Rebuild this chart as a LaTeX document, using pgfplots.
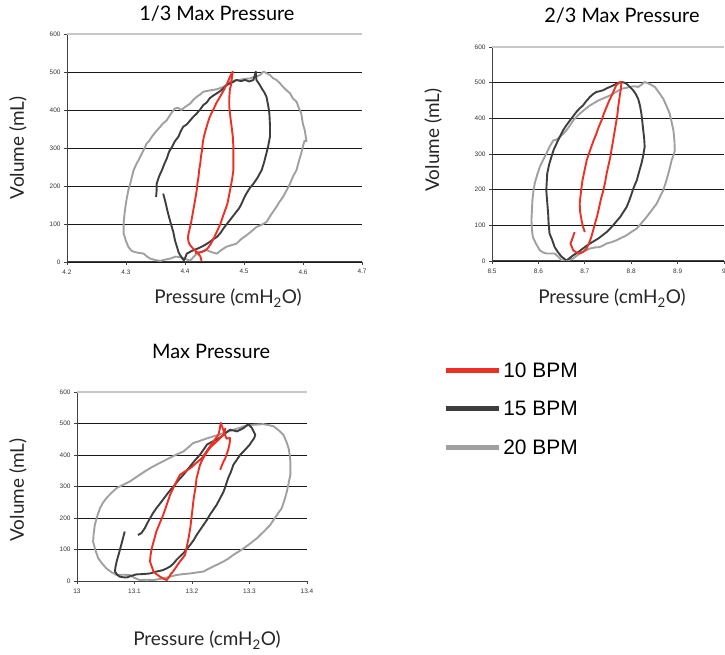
\documentclass[border=0pt]{standalone}
\usepackage{pgfplots}
\pgfplotsset{compat=1.18}
\usepackage{fontspec}
\setmainfont{Lato}
\newfontfamily\arialf{Liberation Sans}
\definecolor{cRed}{RGB}{238,48,36}
\definecolor{cDark}{RGB}{62,62,62}
\definecolor{cGray}{RGB}{160,160,160}
\definecolor{cTop}{RGB}{200,200,200}
\pgfplotsset{
  pv/.style={
    scale only axis, anchor=south west,
    ymin=0, ymax=600, ytick={0,100,...,600},
    axis x line*=bottom, axis y line*=left,
    axis line style={-, line width=1bp, black!75},
    ymajorgrids, grid style={line width=0.9bp, black!90},
    tick style={black!75, line width=0.8bp},
    tick align=outside, major tick length=3bp,
    tick label style={font=\arialf\fontsize{6.5}{7}\selectfont, text=black!80},
    /pgf/number format/assume math mode=true,
    xticklabel style={yshift=-1bp},
    label style={font=\fontsize{19}{22}\selectfont, text=black!85},
    title style={font=\fontsize{20}{23}\selectfont, anchor=center},
    every axis plot/.append style={line width=1.9bp, line join=round},
    clip=false,
  }
}
\begin{document}
\begin{tikzpicture}
\path[use as bounding box] (0,0) rectangle (725bp,655bp);
% ---------------- 1/3 Max Pressure
\begin{axis}[pv, at={(67bp,393bp)}, width=295bp, height=228bp,
  xmin=4.2, xmax=4.7, xtick={4.2,4.3,4.4,4.5,4.6,4.7},
  title={1/3 Max Pressure}, title style={at={(axis description cs:0.508,1.061)}},
  xlabel={Pressure (cmH\textsubscript{2}O)}, ylabel={Volume (mL)},
  xlabel style={at={(axis description cs:0.546,-0.158)}, anchor=center},
  ylabel style={at={(axis description cs:-0.166,0.5)}, anchor=center, rotate=0},
]
\draw[cTop, line width=1.5bp] (rel axis cs:0,1) -- (rel axis cs:1,1);
\addplot[cGray] coordinates {
(4.606,316)(4.603,347)(4.600,362)(4.597,391)(4.593,405)(4.589,422)(4.583,430)(4.578,444)(4.572,452)(4.566,461)(4.560,472)(4.555,479)(4.549,484)(4.544,492)(4.538,497)(4.533,501)(4.527,492)(4.521,488)(4.515,486)(4.510,483)(4.500,482)(4.493,479)(4.485,478)(4.476,475)(4.470,466)(4.465,461)(4.455,455)(4.448,453)(4.440,451)(4.431,448)(4.425,440)(4.420,435)(4.413,425)(4.409,417)(4.400,408)(4.394,400)(4.388,406)(4.383,404)(4.376,390)(4.369,373)(4.363,365)(4.358,356)(4.350,342)(4.344,330)(4.339,318)(4.335,312)(4.331,298)(4.327,286)(4.322,270)(4.318,259)(4.313,242)(4.310,224)(4.307,205)(4.304,189)(4.301,165)(4.299,145)(4.297,120)(4.296,101)(4.296,88)(4.296,75)(4.300,55)(4.304,40)(4.309,30)(4.315,26)(4.322,24)(4.330,22)(4.336,14)(4.341,9)(4.350,5)(4.358,3)(4.366,6)(4.375,9)(4.384,14)(4.392,13)(4.400,8)(4.409,4)(4.415,14)(4.420,22)(4.428,27)(4.437,31)(4.445,26)(4.454,22)(4.462,32)(4.470,40)(4.478,44)(4.487,48)(4.495,60)(4.504,70)(4.512,80)(4.521,92)(4.530,98)(4.538,105)(4.546,125)(4.555,145)(4.560,158)(4.566,171)(4.572,188)(4.578,206)(4.583,225)(4.589,242)(4.593,265)(4.597,286)(4.600,305)(4.603,321)};
\addplot[cDark] coordinates {
(4.351,171)(4.352,190)(4.352,206)(4.356,225)(4.361,242)(4.365,258)(4.369,272)(4.373,290)(4.378,303)(4.383,318)(4.389,330)(4.393,345)(4.397,356)(4.403,362)(4.409,373)(4.414,382)(4.420,391)(4.426,402)(4.431,413)(4.437,420)(4.442,431)(4.448,438)(4.454,444)(4.460,450)(4.465,457)(4.470,465)(4.476,470)(4.481,473)(4.487,479)(4.495,476)(4.502,479)(4.509,475)(4.516,479)(4.520,501)(4.521,479)(4.526,468)(4.530,457)(4.535,445)(4.538,435)(4.541,412)(4.543,391)(4.544,360)(4.544,330)(4.541,305)(4.538,286)(4.534,262)(4.530,242)(4.523,222)(4.516,206)(4.510,195)(4.504,180)(4.500,168)(4.496,154)(4.492,142)(4.487,132)(4.481,120)(4.476,110)(4.470,98)(4.465,88)(4.460,76)(4.454,66)(4.448,60)(4.442,53)(4.435,46)(4.428,40)(4.421,35)(4.414,31)(4.409,27)(4.403,22)(4.400,10)(4.398,4)(4.394,13)(4.391,20)(4.389,26)(4.386,42)(4.383,57)(4.380,80)(4.376,101)(4.373,118)(4.370,136)(4.368,150)(4.366,163)(4.363,180)};
\addplot[cRed] coordinates {
(4.428,3)(4.426,15)(4.420,26)(4.415,33)(4.411,40)(4.408,46)(4.406,53)(4.405,65)(4.406,75)(4.408,88)(4.410,101)(4.412,118)(4.414,136)(4.416,153)(4.418,171)(4.420,190)(4.421,206)(4.423,225)(4.424,242)(4.426,260)(4.427,277)(4.429,295)(4.430,312)(4.432,330)(4.435,347)(4.438,363)(4.441,378)(4.445,392)(4.449,404)(4.453,418)(4.458,431)(4.462,442)(4.466,453)(4.470,465)(4.473,475)(4.476,487)(4.479,496)(4.481,501)(4.479,479)(4.478,466)(4.476,453)(4.475,430)(4.475,409)(4.477,380)(4.479,356)(4.481,330)(4.482,303)(4.482,270)(4.482,242)(4.480,220)(4.478,202)(4.475,178)(4.472,154)(4.468,136)(4.464,119)(4.460,100)(4.455,83)(4.451,70)(4.447,57)(4.443,46)(4.438,35)(4.433,30)(4.428,26)(4.422,25)(4.417,24)};
\end{axis}
% ---------------- 2/3 Max Pressure
\begin{axis}[pv, at={(492bp,394bp)}, width=232bp, height=214bp,
  xmin=8.5, xmax=9, xtick={8.5,8.6,8.7,8.8,8.9,9},
  title={2/3 Max Pressure}, title style={at={(axis description cs:0.560,1.121)}},
  xlabel={Pressure (cmH\textsubscript{2}O)}, ylabel={Volume (mL)},
  xlabel style={at={(axis description cs:0.517,-0.173)}, anchor=center},
  ylabel style={at={(axis description cs:-0.254,0.565)}, anchor=center, rotate=0},
]
\draw[cTop, line width=1.5bp] (rel axis cs:0,1) -- (rel axis cs:1,1);
\addplot[cGray] coordinates {
(8.894,310)(8.893,340)(8.891,366)(8.887,390)(8.883,413)(8.876,435)(8.869,455)(8.860,472)(8.851,488)(8.840,496)(8.829,502)(8.822,494)(8.815,488)(8.806,490)(8.797,488)(8.788,485)(8.779,483)(8.770,476)(8.761,469)(8.754,464)(8.747,460)(8.738,455)(8.729,450)(8.720,443)(8.711,436)(8.700,425)(8.689,413)(8.682,404)(8.675,394)(8.668,380)(8.660,366)(8.653,356)(8.646,348)(8.639,340)(8.632,338)(8.624,320)(8.617,301)(8.610,283)(8.603,264)(8.597,240)(8.592,217)(8.589,193)(8.587,170)(8.586,140)(8.585,114)(8.586,90)(8.588,67)(8.595,48)(8.603,30)(8.610,24)(8.617,21)(8.626,21)(8.635,21)(8.643,12)(8.650,2)(8.657,2)(8.664,2)(8.670,5)(8.675,7)(8.682,14)(8.689,21)(8.700,28)(8.711,35)(8.722,38)(8.732,39)(8.740,44)(8.747,49)(8.758,53)(8.768,58)(8.779,65)(8.790,72)(8.801,82)(8.812,91)(8.822,106)(8.833,123)(8.844,142)(8.855,161)(8.862,180)(8.869,198)(8.875,222)(8.880,245)(8.884,265)(8.887,282)(8.891,296)(8.894,310)};
\addplot[cDark] coordinates {
(8.660,2)(8.650,12)(8.642,25)(8.635,39)(8.630,58)(8.624,77)(8.622,105)(8.621,133)(8.619,165)(8.617,198)(8.618,222)(8.619,245)(8.623,270)(8.628,292)(8.633,312)(8.639,329)(8.646,348)(8.653,366)(8.660,380)(8.668,394)(8.675,406)(8.682,418)(8.689,428)(8.696,436)(8.703,448)(8.711,460)(8.718,468)(8.725,474)(8.732,476)(8.740,479)(8.747,484)(8.754,488)(8.761,492)(8.768,497)(8.774,500)(8.779,502)(8.785,500)(8.790,497)(8.797,488)(8.804,479)(8.810,468)(8.815,455)(8.819,435)(8.822,413)(8.824,390)(8.826,366)(8.828,343)(8.829,320)(8.826,296)(8.822,273)(8.817,250)(8.812,226)(8.806,208)(8.801,189)(8.796,170)(8.790,151)(8.783,137)(8.776,123)(8.768,111)(8.761,100)(8.754,90)(8.747,81)(8.738,72)(8.729,63)(8.720,56)(8.711,49)(8.703,42)(8.696,35)(8.691,30)(8.686,25)(8.680,20)(8.675,16)(8.668,9)(8.662,3)};
\addplot[cRed] coordinates {
(8.700,81)(8.696,97)(8.693,114)(8.690,138)(8.689,161)(8.691,185)(8.693,207)(8.695,226)(8.698,245)(8.701,263)(8.704,282)(8.709,301)(8.714,320)(8.719,338)(8.725,357)(8.730,376)(8.736,394)(8.741,413)(8.747,432)(8.752,448)(8.758,464)(8.763,479)(8.768,493)(8.774,500)(8.779,502)(8.778,485)(8.776,469)(8.774,450)(8.772,432)(8.770,408)(8.767,385)(8.764,361)(8.761,338)(8.758,315)(8.755,292)(8.751,268)(8.747,245)(8.744,222)(8.740,198)(8.735,175)(8.731,151)(8.727,128)(8.722,105)(8.718,86)(8.714,67)(8.709,50)(8.704,35)(8.697,26)(8.689,21)(8.682,24)(8.675,30)(8.672,40)(8.669,49)(8.673,62)(8.678,81)};
\end{axis}
% ---------------- Max Pressure
\begin{axis}[pv, at={(77bp,74bp)}, width=230bp, height=189bp,
  xmin=13, xmax=13.4, xtick={13,13.1,13.2,13.3,13.4},
  title={Max Pressure}, title style={at={(axis description cs:0.583,1.185)}},
  xlabel={Pressure (cmH\textsubscript{2}O)}, ylabel={Volume (mL)},
  xlabel style={at={(axis description cs:0.565,-0.312)}, anchor=center},
  ylabel style={at={(axis description cs:-0.257,0.481)}, anchor=center, rotate=0},
  legend cell align=left,
  legend style={at={(axis description cs:1.592,1.168)}, anchor=north west,
    draw=none, fill=none, font=\arialf\fontsize{21}{23}\selectfont,
    row sep=18.5bp, inner sep=0pt,
    /tikz/every even column/.append style={column sep=2bp}},
  legend image code/.code={\draw[#1, line width=5bp] (0bp,0bp) -- (53bp,0bp);},
]
\draw[cTop, line width=1.5bp] (rel axis cs:0,1) -- (rel axis cs:1,1);
\addlegendimage{cRed}
\addlegendentry{10 BPM}
\addlegendimage{cDark}
\addlegendentry{15 BPM}
\addlegendimage{cGray}
\addlegendentry{20 BPM}
\addplot[cGray, forget plot] coordinates {
(13.371,380)(13.370,400)(13.368,422)(13.364,443)(13.359,464)(13.351,478)(13.342,491)(13.333,495)(13.324,498)(13.316,497)(13.307,496)(13.298,494)(13.290,491)(13.281,485)(13.272,480)(13.264,475)(13.255,470)(13.246,464)(13.237,459)(13.228,454)(13.220,449)(13.211,443)(13.202,438)(13.194,425)(13.185,411)(13.176,404)(13.167,396)(13.158,388)(13.150,380)(13.138,369)(13.127,358)(13.118,348)(13.109,337)(13.100,326)(13.092,316)(13.080,305)(13.069,295)(13.060,280)(13.051,263)(13.045,248)(13.040,231)(13.035,205)(13.031,178)(13.029,150)(13.028,125)(13.032,98)(13.037,72)(13.044,55)(13.051,40)(13.060,28)(13.069,19)(13.080,20)(13.092,19)(13.100,10)(13.109,3)(13.121,4)(13.133,3)(13.142,6)(13.150,8)(13.162,14)(13.173,19)(13.185,22)(13.197,24)(13.208,27)(13.220,30)(13.228,38)(13.237,46)(13.246,54)(13.255,62)(13.264,72)(13.272,83)(13.281,93)(13.290,104)(13.302,120)(13.313,136)(13.325,157)(13.336,178)(13.346,205)(13.356,231)(13.361,258)(13.365,284)(13.368,310)(13.371,337)(13.371,358)(13.371,380)};
\addplot[cDark, forget plot] coordinates {
(13.083,157)(13.080,136)(13.077,115)(13.073,88)(13.069,62)(13.067,45)(13.066,30)(13.070,20)(13.074,14)(13.080,12)(13.086,11)(13.094,16)(13.103,21)(13.115,22)(13.127,24)(13.133,27)(13.138,30)(13.144,32)(13.150,35)(13.156,40)(13.162,46)(13.168,56)(13.173,67)(13.179,78)(13.185,88)(13.191,102)(13.197,115)(13.203,130)(13.208,146)(13.214,162)(13.220,178)(13.226,194)(13.231,210)(13.237,226)(13.243,242)(13.249,263)(13.255,284)(13.259,305)(13.263,327)(13.268,348)(13.272,369)(13.278,385)(13.284,401)(13.290,412)(13.295,422)(13.300,432)(13.304,443)(13.308,453)(13.310,464)(13.307,475)(13.304,486)(13.301,492)(13.298,498)(13.294,492)(13.290,486)(13.284,480)(13.278,475)(13.272,478)(13.266,480)(13.260,472)(13.255,464)(13.249,456)(13.243,449)(13.234,441)(13.226,433)(13.220,417)(13.214,401)(13.206,385)(13.199,369)(13.192,353)(13.185,337)(13.177,321)(13.170,305)(13.163,290)(13.156,274)(13.147,252)(13.138,231)(13.132,215)(13.127,199)(13.122,183)(13.118,168)(13.115,160)(13.112,152)(13.106,146)};
\addplot[cRed, forget plot] coordinates {
(13.249,353)(13.252,367)(13.255,380)(13.258,390)(13.260,401)(13.263,417)(13.265,433)(13.266,444)(13.266,454)(13.260,452)(13.250,502)(13.248,480)(13.246,464)(13.238,445)(13.231,427)(13.224,408)(13.217,390)(13.207,374)(13.197,358)(13.188,348)(13.179,337)(13.170,305)(13.162,274)(13.156,242)(13.150,210)(13.144,184)(13.138,157)(13.134,130)(13.130,104)(13.128,83)(13.127,62)(13.130,46)(13.133,30)(13.138,22)(13.144,14)(13.150,8)(13.156,3)(13.160,12)(13.163,22)(13.167,30)(13.173,46)(13.179,62)(13.184,73)(13.188,83)(13.191,110)(13.194,136)(13.197,168)(13.199,199)(13.201,231)(13.203,263)(13.206,295)(13.208,327)(13.211,348)(13.214,369)(13.218,385)(13.223,401)(13.227,412)(13.231,422)(13.237,433)(13.243,443)(13.249,454)(13.255,464)(13.257,475)(13.258,486)};
\end{axis}
\end{tikzpicture}
\end{document}
